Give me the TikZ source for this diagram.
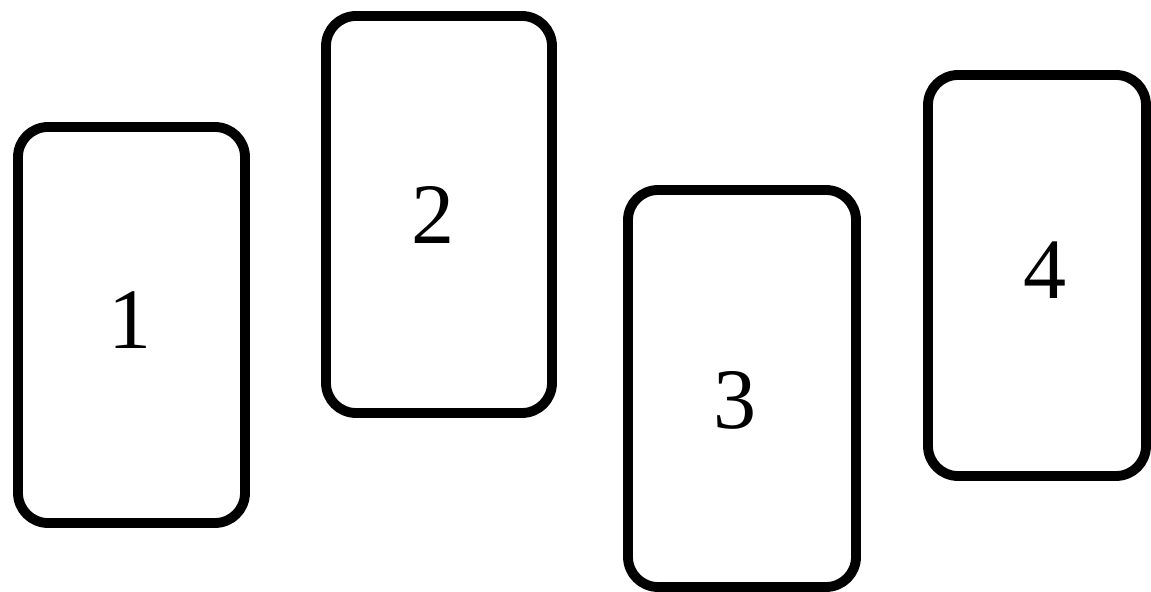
\documentclass[tikz,border=0pt]{standalone}
\usepackage{fontspec}
\setmainfont{Liberation Serif}
\usepackage{tikz}

\begin{document}
\begin{tikzpicture}[
	card/.style={draw, line width=5.6pt, rounded corners=0.6cm, rectangle, inner sep=0pt},
	num/.style={font=\fontsize{49}{49}\selectfont}]
	\useasboundingbox (0,0) rectangle (23.02,-11.84);

	\node[card, minimum width=4.54cm, minimum height=7.92cm] (c1) at (2.63,-6.50) {};
	\node[card, minimum width=4.52cm, minimum height=7.94cm] (c2) at (8.78,-4.29) {};
	\node[card, minimum width=4.56cm, minimum height=7.94cm] (c3) at (14.84,-7.77) {};
	\node[card, minimum width=4.36cm, minimum height=8.02cm] (c4) at (20.74,-5.51) {};

	\node[num] (n1) at (2.60,-6.40) {1};
	\node[num] (n2) at (8.66,-4.30) {2};
	\node[num] (n3) at (14.70,-8.00) {3};
	\node[num] (n4) at (20.90,-5.40) {4};
\end{tikzpicture}
\end{document}
